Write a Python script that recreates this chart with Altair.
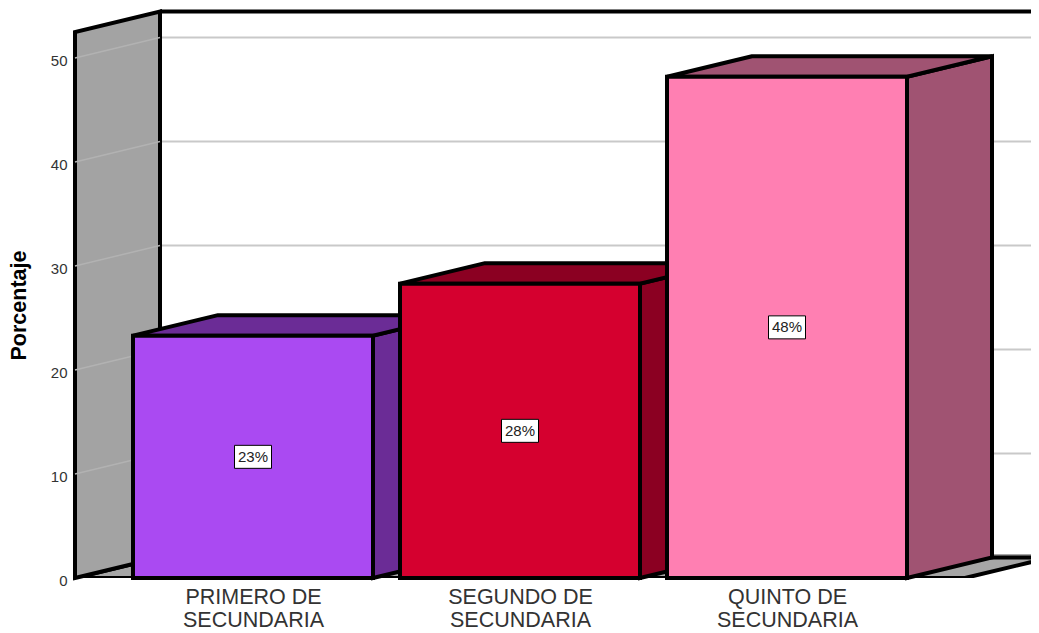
import altair as alt

categories = ["PRIMERO DE|SECUNDARIA", "SEGUNDO DE|SECUNDARIA", "QUINTO DE|SECUNDARIA"]
values = [23.3, 28.3, 48.2]
labels = ["23%", "28%", "48%"]
front_colors = ["#aa4af2", "#d5002f", "#ff7fb2"]
side_colors = ["#6b2c96", "#8b0022", "#a05372"]
y_ticks = [0, 10, 20, 30, 40, 50]

W, H = 956, 570
PX_Y = 10.4          # pixels per percent
STEP = 267.0         # pixels per category
X0_PX = 178.0        # centre of first bar from plot's left
HALF = 120.0 / STEP
DX = 85.0 / STEP
DY = 20.5 / PX_Y
WALL_TOP = 52.5
XMIN = -X0_PX / STEP
XMAX = (W - X0_PX) / STEP
FLOOR_END = XMIN + 890.0 / STEP

xs = alt.Scale(domain=[XMIN, XMAX], range=[0, W], nice=False, zero=False)
ys = alt.Scale(domain=[0, H / PX_Y], range=[H, 0], nice=False, zero=False)
STROKE = dict(stroke="black", strokeWidth=4, strokeJoin="miter")

label_lookup = "[" + ",".join(str(c.split("|")) for c in categories) + "][datum.value]"
x_axis = alt.Axis(
    values=list(range(len(categories))), labelExpr=label_lookup, domain=False, ticks=False, grid=False,
    labelFont="Liberation Sans", labelFontSize=21.5, labelColor="#333333", labelLineHeight=23,
    labelPadding=8, labelBaseline="top", labelOverlap=False, labelFlush=False)
y_axis = alt.Axis(
    values=y_ticks, domain=False, ticks=False, grid=False,
    labelFont="Liberation Sans", labelFontSize=15, labelColor="#333333", labelPadding=8, labelOffset=2,
    titleFont="Liberation Sans", titleFontSize=21.5, titleFontWeight="bold", titleColor="black",
    titleX=-45, titleY=297)


def X(f="x"):
    return alt.X(f + ":Q", scale=xs, axis=x_axis, title=None)


def Y(f="y"):
    return alt.Y(f + ":Q", scale=ys, axis=y_axis, title="Porcentaje")


def vface(points, color, clip=False):
    return alt.Chart(alt.Data(values=points)).mark_area(
        orient="vertical", color=color, opacity=1, clip=clip, **STROKE
    ).encode(x=X(), y=Y(), y2="y2:Q")


def hface(points, color, clip=False):
    return alt.Chart(alt.Data(values=points)).mark_area(
        orient="horizontal", color=color, opacity=1, clip=clip, **STROKE
    ).encode(y=Y(), x=X(), x2="x2:Q")


layers = []

# back grid lines and their continuation over the side wall
back = [{"y": t + DY, "x": XMIN + DX, "x2": XMAX} for t in y_ticks[1:]]
layers.append(alt.Chart(alt.Data(values=back)).mark_rule(color="#c9c9c9", strokeWidth=2).encode(x=X(), x2="x2:Q", y=Y()))
layers.append(alt.Chart(alt.Data(values=[{"y": DY + 0.25, "x": XMIN + DX, "x2": XMAX}])).mark_rule(color="#a6a6a6", strokeWidth=2).encode(x=X(), x2="x2:Q", y=Y()))

# top frame
layers.append(alt.Chart(alt.Data(values=[{"y": WALL_TOP + DY, "x": XMIN + DX, "x2": XMAX}])).mark_rule(color="black", strokeWidth=4).encode(x=X(), x2="x2:Q", y=Y()))

# floor
layers.append(hface([{"y": 0, "x": XMIN, "x2": FLOOR_END}, {"y": DY, "x": XMIN + DX, "x2": FLOOR_END + DX}], "#a6a6a6", clip=True))

# left wall
layers.append(vface([{"x": XMIN, "y": 0, "y2": WALL_TOP}, {"x": XMIN + DX, "y": DY, "y2": WALL_TOP + DY}], "#a3a3a3"))
wall = [{"x": XMIN, "x2": XMIN + DX, "y": t, "y2": t + DY} for t in y_ticks[1:]]
layers.append(alt.Chart(alt.Data(values=wall)).mark_rule(color="#b2b2b2", strokeWidth=1.5).encode(x=X(), x2="x2:Q", y=Y(), y2="y2:Q"))

# bars
for i, v in enumerate(values):
    l, r = i - HALF, i + HALF
    layers.append(vface([{"x": r, "y": 0, "y2": v}, {"x": r + DX, "y": DY, "y2": v + DY}], side_colors[i]))
    layers.append(hface([{"y": v, "x": l, "x2": r}, {"y": v + DY, "x": l + DX, "x2": r + DX}], side_colors[i]))
    layers.append(alt.Chart(alt.Data(values=[{"x": l, "x2": r, "y": 0, "y2": v}])).mark_rect(color=front_colors[i], **STROKE).encode(x=X(), x2="x2:Q", y=Y(), y2="y2:Q"))

# value labels
BW, BH = 18.5 / STEP, 11.5 / PX_Y
boxes = [{"x": i - BW, "x2": i + BW, "y": v / 2 - BH, "y2": v / 2 + BH} for i, v in enumerate(values)]
layers.append(alt.Chart(alt.Data(values=boxes)).mark_rect(fill="white", stroke="black", strokeWidth=1).encode(x=X(), x2="x2:Q", y=Y(), y2="y2:Q"))
texts = [{"x": i, "y": v / 2, "t": labels[i]} for i, v in enumerate(values)]
layers.append(alt.Chart(alt.Data(values=texts)).mark_text(font="Liberation Sans", fontSize=15, color="#222222").encode(x=X(), y=Y(), text="t:N"))

chart = alt.layer(*layers).properties(
    width=W, height=H,
    autosize=alt.AutoSizeParams(type="none"),
    padding={"left": 67, "top": 0, "right": 0, "bottom": 55},
).configure_view(stroke=None)

chart.save("out.html", embed_options={"renderer": "svg", "actions": False})
